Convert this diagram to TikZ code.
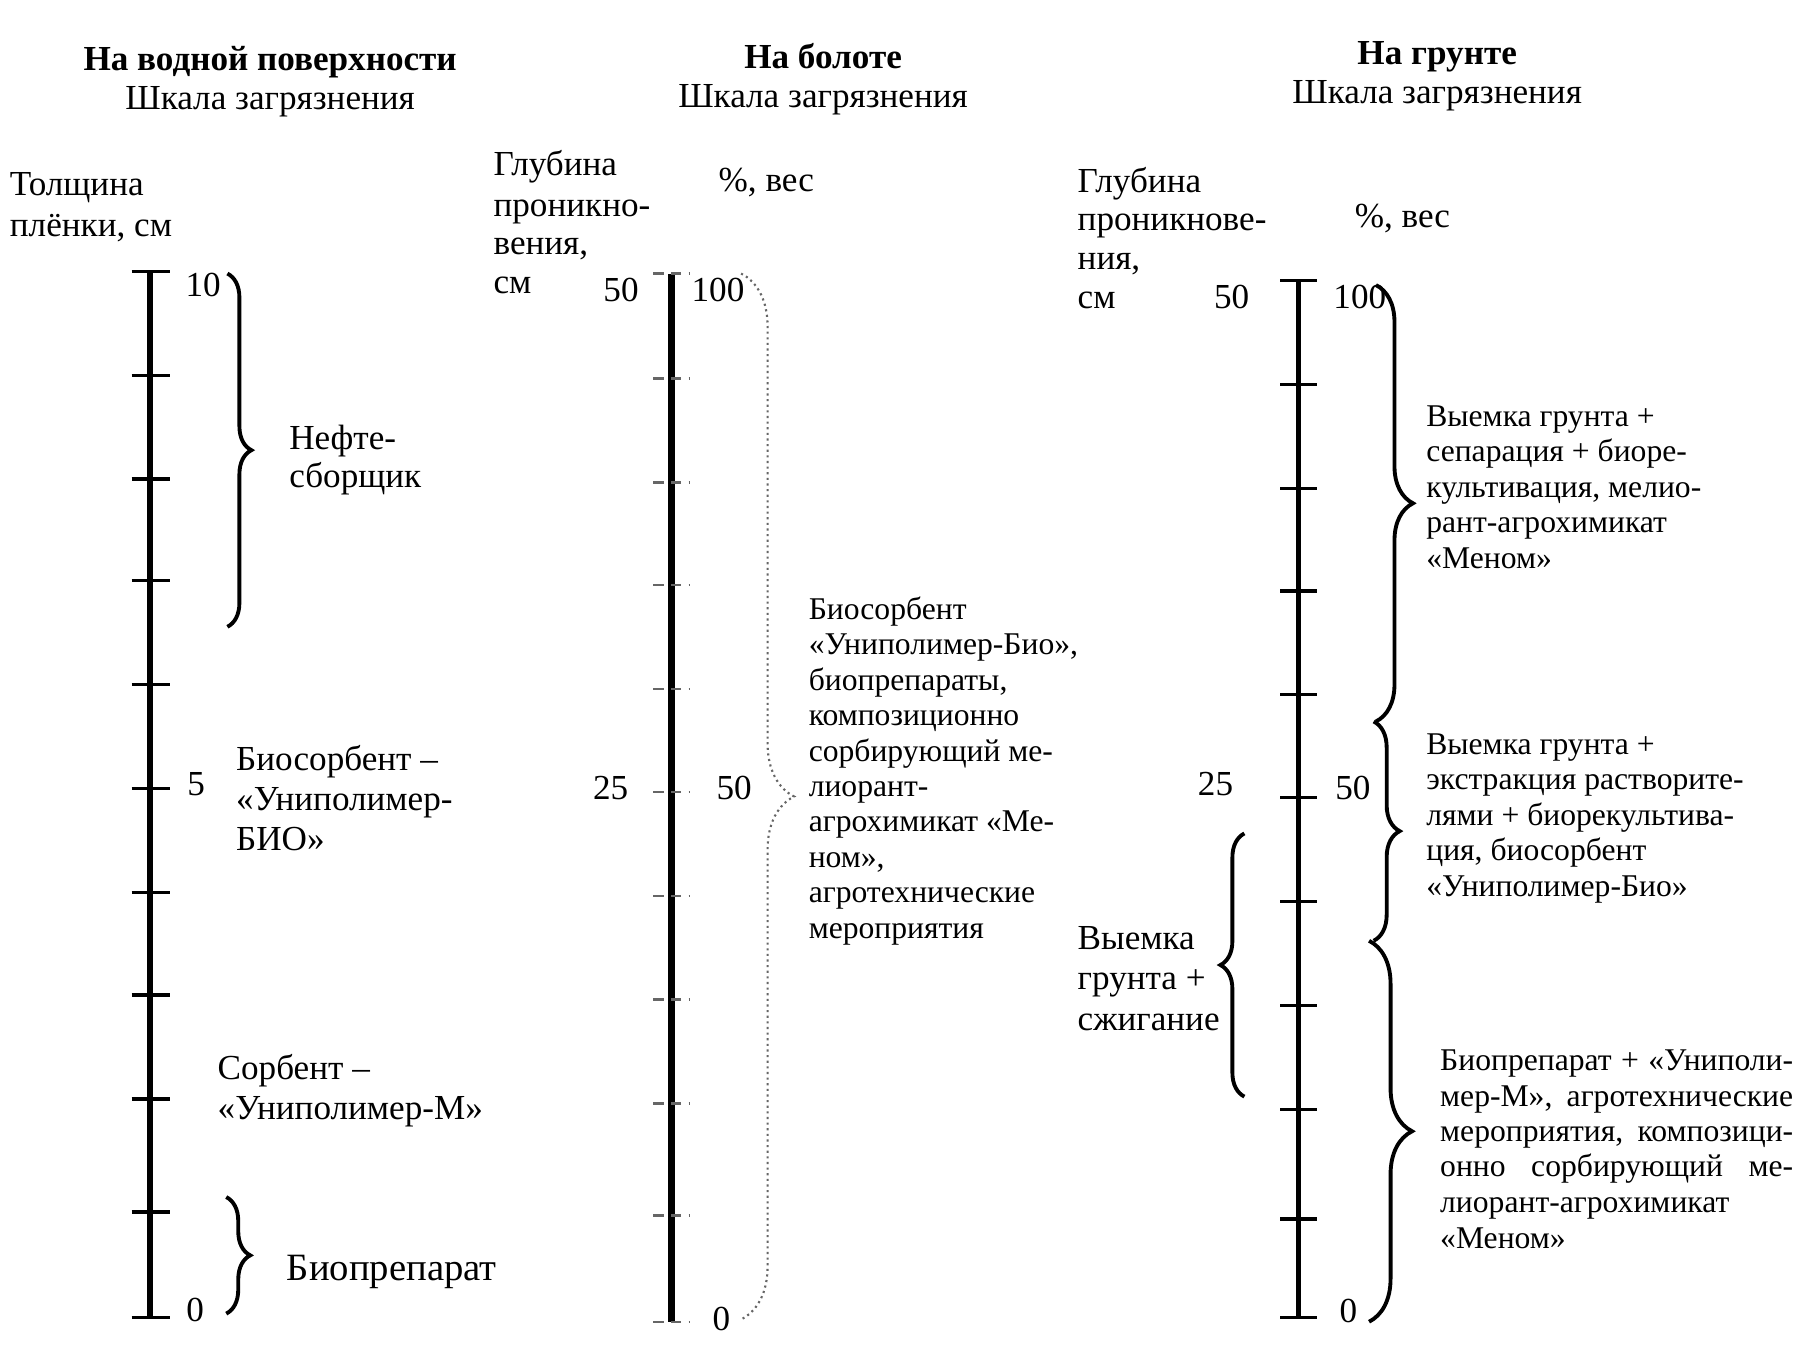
\documentclass[tikz,border=0pt]{standalone}
\usepackage{fontspec}
\setmainfont{Liberation Serif}
\usetikzlibrary{decorations.pathreplacing}
\begin{document}
\begin{tikzpicture}[x=0.11543mm, y=-0.11543mm,
  txt/.style={anchor=west, inner sep=0pt, yshift=-0.25mm, text height=0.68em, text depth=0.2em, font=\fontsize{10}{12}\selectfont},
  small/.style={txt, font=\fontsize{9}{11}\selectfont},
  ctr/.style={txt, anchor=center},
  hdr/.style={ctr, font=\fontsize{10}{12}\selectfont\bfseries},
  axisline/.style={line width=1.6pt},
  tickline/.style={line width=0.9pt},
  faintick/.style={line width=0.7pt, black!60, densely dashed},
  brc/.style={decorate, decoration={brace, amplitude=#1}, line width=1.1pt},
  dbrc/.style={decorate, decoration={brace, amplitude=#1}, line width=0.6pt, black!60, densely dotted},
]
\useasboundingbox (0,0) rectangle (1568,1175);
\fill[white] (0,0) rectangle (1568,1175);

% ---------- left column ----------
\node[hdr] (h1) at (234,52) {На водной поверхности};
\node[ctr] (s1) at (234,85) {Шкала загрязнения};
\node[txt] (tl1) at (8,160) {Толщина};
\node[txt] (tl2) at (8,195) {плёнки, см};
\draw[axisline] (130,235) -- (130,1141);
\foreach \y in {235,325,415,503,593,683,773,862,952,1050,1141}
  \draw[tickline] (114,\y) -- (147,\y);
\node[ctr] (l10) at (176,247) {10};
\node[ctr] (l5) at (170,680) {5};
\node[ctr] (l0) at (169,1135) {0};
\draw[brc=2.4mm] (197,237) -- (197,543);
\draw[brc=2.4mm] (196,1037) -- (196,1138);
\node[txt] (nf1) at (250,380) {Нефте-};
\node[txt] (nf2) at (250,413) {сборщик};
\node[txt] (bs1) at (204,658) {Биосорбент –};
\node[txt] (bs2) at (204,693) {«Униполимер-};
\node[txt] (bs3) at (204,727) {БИО»};
\node[txt] (sb1) at (188,926) {Сорбент –};
\node[txt] (sb2) at (188,960) {«Униполимер-М»};
\node[txt, font=\fontsize{11}{13}\selectfont] (bp) at (248,1100) {Биопрепарат};

% ---------- middle column ----------
\node[hdr] (h2) at (713,50) {На болоте};
\node[ctr] (s2) at (713,84) {Шкала загрязнения};
\node[txt] (gm1) at (427,143) {Глубина};
\node[txt] (gm2) at (427,178) {проникно-};
\node[txt] (gm3) at (427,211) {вения,};
\node[txt] (gm4) at (427,245) {см};
\node[txt] (pm) at (622,156) {\%, вес};
\draw[line width=2pt] (582,237) -- (582,1145);
\foreach \y in {237,328,418,507,597,686,776,866,956,1053,1145}
  \draw[faintick] (566,\y) -- (598,\y);
\node[ctr] (m50a) at (538,252) {50};
\node[ctr] (m100) at (622,252) {100};
\node[ctr] (m25) at (529,683) {25};
\node[ctr] (m50b) at (636,683) {50};
\node[ctr] (m0) at (625,1143) {0};
\draw[dbrc=5.3mm] (642,237) -- (642,1143);
\foreach \t [count=\i] in {Биосорбент, {«Униполимер-Био»,}, {биопрепараты,}, композиционно, сорбирующий ме-, лиорант-, агрохимикат «Ме-, {ном»,}, агротехнические, мероприятия}
  \node[small] (mid\i) at (700,{527+30.7*(\i-1)}) {\t};

% ---------- right column ----------
\node[hdr] (h3) at (1245,46) {На грунте};
\node[ctr] (s3) at (1245,80) {Шкала загрязнения};
\node[txt] (gr1) at (933,157) {Глубина};
\node[txt] (gr2) at (933,190) {проникнове-};
\node[txt] (gr3) at (933,224) {ния,};
\node[txt] (gr4) at (933,258) {см};
\node[txt] (pr) at (1173,188) {\%, вес};
\draw[line width=1.5pt] (1125,243) -- (1125,1141);
\foreach \y in {243,333,423,512,602,691,781,871,961,1056,1141}
  \draw[tickline] (1109,\y) -- (1141,\y);
\node[ctr] (r50a) at (1067,258) {50};
\node[ctr] (r100) at (1178,258) {100};
\node[ctr] (r25) at (1053,680) {25};
\node[ctr] (r50b) at (1172,683) {50};
\node[ctr] (r0) at (1168,1136) {0};
\draw[brc=3.7mm] (1192,247) -- (1192,625);
\draw[brc=2.6mm] (1190,625) -- (1190,815);
\draw[brc=4.3mm] (1186,815) -- (1186,1145);
\draw[brc=2.4mm] (1078,950) -- (1078,722);
\foreach \t [count=\i] in {Выемка грунта +, сепарация + биоре-, {культивация, мелио-}, рант-агрохимикат, «Меном»}
  \node[small] (ra\i) at (1235,{360+30.75*(\i-1)}) {\t};
\foreach \t [count=\i] in {Выемка грунта +, экстракция растворите-, лями + биорекультива-, {ция, биосорбент}, «Униполимер-Био»}
  \node[small] (rb\i) at (1235,{644+30.75*(\i-1)}) {\t};
\node[small] (rc1) at (1247,918) {\makebox[35.3mm][s]{Биопрепарат + «Униполи-}};
\node[small] (rc2) at (1247,949) {\makebox[35.3mm][s]{мер-М», агротехнические}};
\node[small] (rc3) at (1247,979) {\makebox[35.3mm][s]{мероприятия, композици-}};
\node[small] (rc4) at (1247,1010) {\makebox[35.3mm][s]{онно сорбирующий ме-}};
\node[small] (rc5) at (1247,1041) {лиорант-агрохимикат};
\node[small] (rc6) at (1247,1072) {«Меном»};
\node[txt] (rd1) at (933,813) {Выемка};
\node[txt] (rd2) at (933,848) {грунта +};
\node[txt] (rd3) at (933,883) {сжигание};
\end{tikzpicture}
\end{document}
